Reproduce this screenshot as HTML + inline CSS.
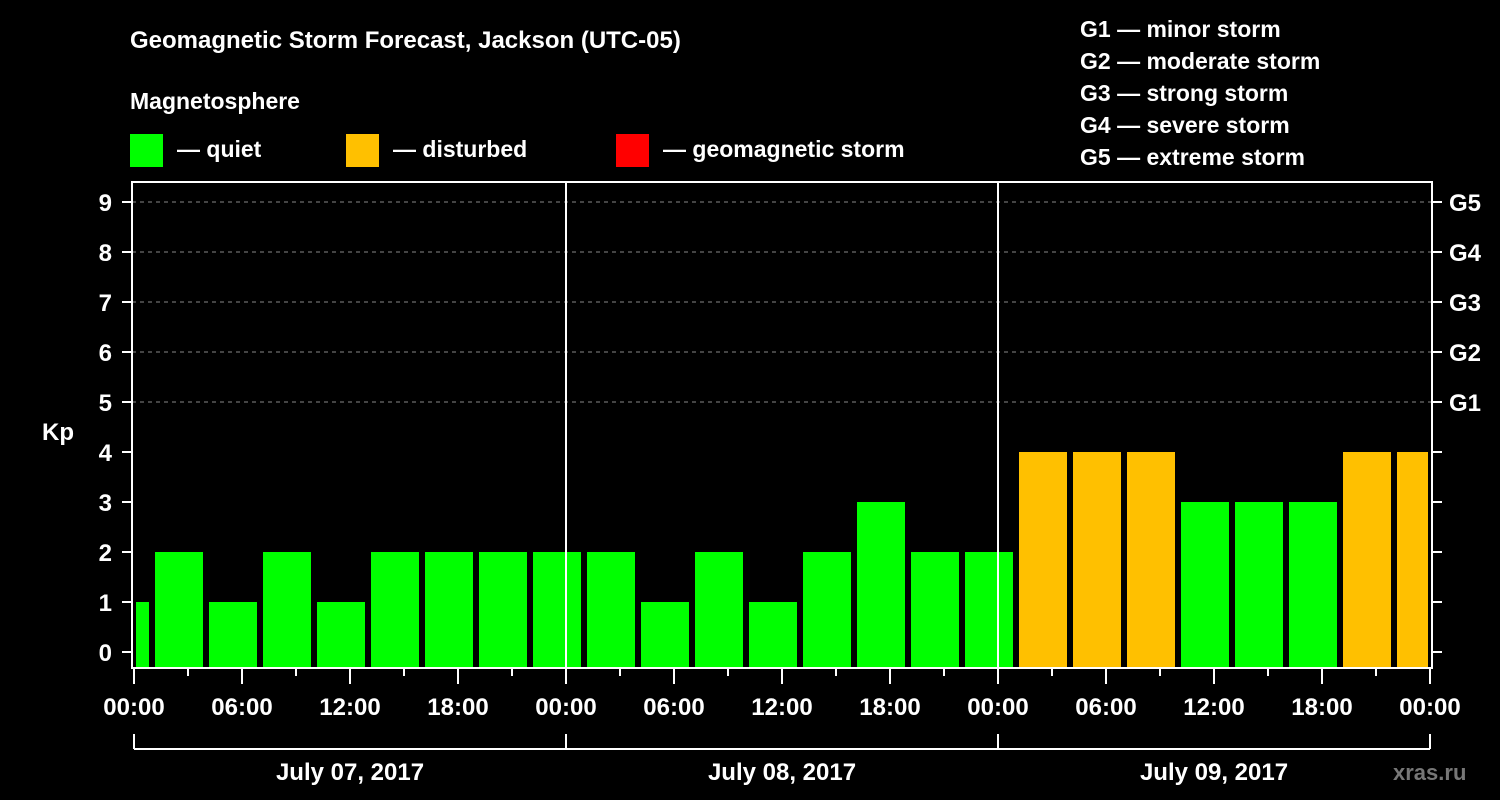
<!DOCTYPE html>
<html><head><meta charset="utf-8"><style>
html,body{margin:0;padding:0;background:#000;}
svg{display:block;font-family:"Liberation Sans",Arial,sans-serif;font-weight:bold;}
</style></head><body>
<svg id="chart" width="1500" height="800" viewBox="0 0 1500 800">
<rect width="1500" height="800" fill="#000"/>
<text x="130" y="48" fill="#fff" font-size="24">Geomagnetic Storm Forecast, Jackson (UTC-05)</text>
<text x="130" y="109" fill="#fff" font-size="23">Magnetosphere</text>
<g><rect x="130" y="134" width="33" height="33" fill="#00ff00"/><text x="177" y="157" fill="#fff" font-size="23">— quiet</text></g>
<g><rect x="346" y="134" width="33" height="33" fill="#ffc000"/><text x="393" y="157" fill="#fff" font-size="23">— disturbed</text></g>
<g><rect x="616" y="134" width="33" height="33" fill="#ff0000"/><text x="663" y="157" fill="#fff" font-size="23">— geomagnetic storm</text></g>
<g fill="#fff" font-size="23">
<text x="1080" y="37">G1 — minor storm</text>
<text x="1080" y="69">G2 — moderate storm</text>
<text x="1080" y="101">G3 — strong storm</text>
<text x="1080" y="133">G4 — severe storm</text>
<text x="1080" y="165">G5 — extreme storm</text>
</g>
<text x="42" y="440" fill="#fff" font-size="24">Kp</text>
<text x="1393" y="780" fill="#777" font-size="22">xras.ru</text>
<g id="grid"></g>
<g id="bars"></g>
<g id="axes"></g>
</svg>
<script>
const kpValues=[1,2,1,2,1,2,2,2,2, 2,1,2,1,2,3,2,2, 4,4,4,3,3,3,4,4];
const binStartHours=[-2,1,4,7,10,13,16,19,22,25,28,31,34,37,40,43,46,49,52,55,58,61,64,67,70];
const yTicks=[0,1,2,3,4,5,6,7,8,9];
const gLabels=["","","","","","G1","G2","G3","G4","G5"];
const xTickLabels=["00:00","06:00","12:00","18:00","00:00","06:00","12:00","18:00","00:00","06:00","12:00","18:00","00:00"];
const dayLabels=["July 07, 2017","July 08, 2017","July 09, 2017"];
const NS="http://www.w3.org/2000/svg";
const X0=134, PXH=18, TOTALH=72;
const xs=h=>X0+h*PXH;
const ys=k=>652-k*50;
const plotTop=182, plotBot=668, plotL=132, plotR=1432;
function mk(tag,attrs,parent){const e=document.createElementNS(NS,tag);for(const k in attrs)e.setAttribute(k,attrs[k]);parent.appendChild(e);return e;}
const grid=document.getElementById('grid'),bars=document.getElementById('bars'),axes=document.getElementById('axes');
yTicks.forEach((k,i)=>{
  if(k>=5){const l=mk('line',{x1:plotL,x2:plotR,y1:ys(k),y2:ys(k),stroke:'#888','stroke-dasharray':'4,4','stroke-width':1},grid);
  
  }
});
kpValues.forEach((v,i)=>{
  let a=xs(binStartHours[i])+3, b=xs(binStartHours[i]+3)-3;
  a=Math.max(a,X0+2); b=Math.min(b,xs(TOTALH)-2);
  const col=v>=5?'#ff0000':(v>=4?'#ffc000':'#00ff00');
  const r=mk('rect',{x:a,y:ys(v),width:b-a,height:plotBot-ys(v),fill:col},bars);
  
  
});
mk('rect',{x:plotL,y:plotTop,width:plotR-plotL,height:plotBot-plotTop,fill:'none',stroke:'#fff','stroke-width':2},axes);
[24,48].forEach(h=>{mk('line',{x1:xs(h),x2:xs(h),y1:plotTop,y2:plotBot,stroke:'#fff','stroke-width':2},axes);});
yTicks.forEach((k,i)=>{
  mk('line',{x1:plotL-10,x2:plotL,y1:ys(k),y2:ys(k),stroke:'#fff','stroke-width':2},axes);
  mk('line',{x1:plotR,x2:plotR+10,y1:ys(k),y2:ys(k),stroke:'#fff','stroke-width':2},axes);
  const t=mk('text',{x:112,y:ys(k)+9,fill:'#fff','font-size':24,'text-anchor':'end'},axes);t.textContent=k;
  
  
  if(gLabels[i]){const g=mk('text',{x:1449,y:ys(k)+9,fill:'#fff','font-size':24},axes);g.textContent=gLabels[i];
  
  }
});
for(let h=0;h<=TOTALH;h+=3){
  const major=h%6===0;
  mk('line',{x1:xs(h),x2:xs(h),y1:plotBot,y2:plotBot+(major?16:8),stroke:'#fff','stroke-width':2},axes);
}
xTickLabels.forEach((s,i)=>{
  const t=mk('text',{x:xs(i*6),y:715,fill:'#fff','font-size':24,'text-anchor':'middle'},axes);t.textContent=s;
  
  
});
mk('line',{x1:xs(0),x2:xs(TOTALH),y1:749,y2:749,stroke:'#fff','stroke-width':2},axes);
for(let d=0;d<=3;d++)mk('line',{x1:xs(d*24),x2:xs(d*24),y1:734,y2:749,stroke:'#fff','stroke-width':2},axes);
dayLabels.forEach((s,i)=>{
  const t=mk('text',{x:xs(i*24+12),y:780,fill:'#fff','font-size':24,'text-anchor':'middle'},axes);t.textContent=s;
  
  
});
</script>
</body></html>
